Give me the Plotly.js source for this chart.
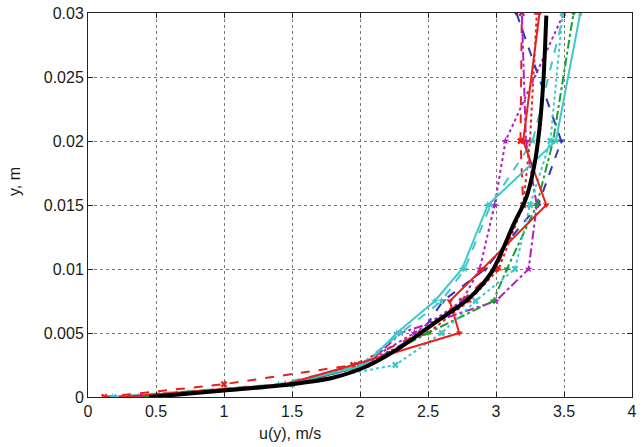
<!DOCTYPE html>
<html><head><meta charset="utf-8">
<script src="https://cdn.plot.ly/plotly-3.0.1.min.js"></script>
<style>body{margin:0;padding:0;background:#fff;}#chart{width:642px;height:447px;}</style>
</head><body><div id="chart"></div>
<script>
// heights (m) at which the profiles were sampled
const yLevels = [0, 0.001, 0.0025, 0.005, 0.0075, 0.01, 0.015, 0.02, 0.03];
// velocity profiles u(y), m/s
const redSolid    = [0.25, 1.45, 1.95, 2.73, 2.66, 2.90, 3.37, 3.20, 3.32];
const redDashed   = [0.12, 1.00, 1.95, 2.45, 2.75, 3.00, 3.20, 3.18, 3.19];
const redDotted   = [0.20, 1.45, 2.00, 2.50, 2.80, 3.02, 3.20, 3.25, 3.30];
const blueDashed  = [0.35, 1.50, 2.05, 2.45, 2.61, 2.92, 3.31, 3.48, 3.15];
const magentaDot  = [0.37, 1.45, 2.00, 2.40, 2.75, 2.88, 2.99, 3.07, 3.50];
const magentaDash = [0.40, 1.50, 2.05, 2.30, 3.00, 3.24, 3.30, 3.22, 3.19];
const greenDashDot= [0.43, 1.50, 2.05, 2.50, 2.98, 3.08, 3.30, 3.42, 3.57];
const cyanSolid   = [0.50, 1.45, 2.04, 2.27, 2.55, 2.75, 2.94, 3.44, 3.62];
const cyanDashed  = [0.18, 1.40, 2.00, 2.30, 2.60, 2.77, 2.96, 3.27, 3.50];
const cyanDotted  = [0.50, 1.50, 2.26, 2.60, 2.85, 3.14, 3.25, 3.40, 3.49];
// averaged profile (black)
const meanU = [0.45, 1.00, 1.50, 1.80, 2.05, 2.30, 2.55, 2.80, 2.97, 3.13, 3.22, 3.28, 3.32, 3.35, 3.37];
const meanY = [0, 0.0005, 0.001, 0.0015, 0.0024, 0.0039, 0.0058, 0.0077, 0.0098, 0.0135, 0.0155, 0.018, 0.021, 0.025, 0.0298];
const xTicks = [0, 0.5, 1, 1.5, 2, 2.5, 3, 3.5, 4];
const yTicks = [0, 0.005, 0.01, 0.015, 0.02, 0.025, 0.03];

function prof(x, color, dash, symbol, w) {
  return {x: x, y: yLevels, type: 'scatter', mode: 'lines+markers',
    line: {color: color, dash: dash, width: w || 2},
    marker: {symbol: symbol, size: 6, color: color}, showlegend: false, hoverinfo: 'skip'};
}
const traces = [
  prof(redDashed, '#e8201c', 'dash', 'x'),
  prof(redDotted, '#e8201c', 'dot', 'triangle-up'),
  prof(blueDashed, '#3535b8', 'dash', 'triangle-down'),
  prof(magentaDot, '#b020c0', 'dot', 'star'),
  prof(magentaDash, '#b020c0', 'dashdot', 'star'),
  prof(greenDashDot, '#18a030', 'dashdot', 'triangle-down'),
  prof(cyanDashed, '#40c8c8', 'dash', 'star'),
  prof(cyanDotted, '#40c8c8', 'dot', 'x'),
  prof(cyanSolid, '#40c8c8', 'solid', 'star'),
  prof(redSolid, '#e8201c', 'solid', 'triangle-down'),
  {x: meanU, y: meanY, type: 'scatter', mode: 'lines', line: {color: '#000', width: 4, shape: 'spline', smoothing: 0.8}, showlegend: false, hoverinfo: 'skip'}
];
const fontFam = 'Liberation Sans, Arial, sans-serif';
const axisCommon = {showline: true, mirror: 'ticks', linecolor: '#222', linewidth: 1,
  ticks: 'inside', ticklen: 5, tickcolor: '#222', showgrid: true, gridcolor: '#777',
  griddash: 'dot', gridwidth: 1, zeroline: false, tickfont: {family: fontFam, size: 16, color: '#1a1a1a'}};
const layout = {
  width: 642, height: 447, paper_bgcolor: '#fff', plot_bgcolor: '#fff',
  margin: {l: 88, r: 10, t: 13, b: 50},
  xaxis: Object.assign({}, axisCommon, {range: [0, 4], tickvals: xTicks, ticktext: xTicks.map(String)}),
  yaxis: Object.assign({}, axisCommon, {range: [0, 0.03], tickvals: yTicks, ticktext: yTicks.map(String)}),
  annotations: [
    {text: 'u(y), m/s', xref: 'paper', yref: 'paper', x: 0.371, y: -0.096, yanchor: 'middle', showarrow: false,
     font: {family: fontFam, size: 16, color: '#1a1a1a'}},
    {text: 'y, m', xref: 'paper', yref: 'paper', x: -0.134, xanchor: 'center', y: 0.56, textangle: -90, showarrow: false,
     font: {family: fontFam, size: 16, color: '#1a1a1a'}}
  ]
};
Plotly.newPlot('chart', traces, layout, {staticPlot: true});
</script></body></html>
